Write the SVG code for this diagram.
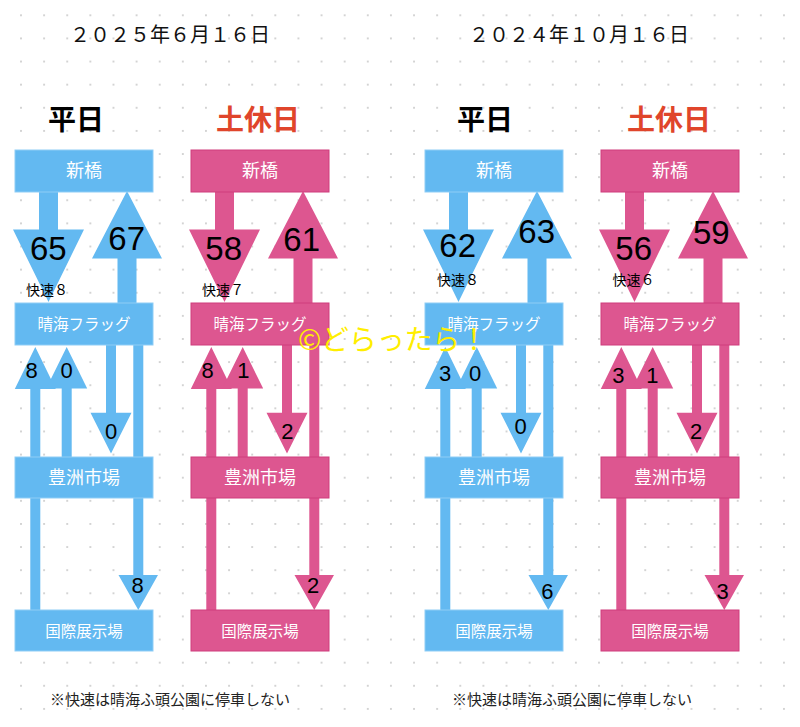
<svg xmlns="http://www.w3.org/2000/svg" width="800" height="727" viewBox="0 0 800 727">
<defs>
<pattern id="dots" patternUnits="userSpaceOnUse" x="9.44" y="3.74" width="23.12" height="23.12">
<circle cx="11.56" cy="11.56" r="0.85" fill="#bdbdbd"/>
</pattern>
</defs>
<style>
.b{fill:#63B9F1}
.p{fill:#DD5690}
.bx-b{fill:#63B9F1;stroke:#8fcdf6;stroke-width:1}
.bx-p{fill:#DD5690;stroke:#cf3c7c;stroke-width:1}
.bt{font-family:"Noto Sans CJK JP","Noto Sans",sans-serif;fill:#fff;text-anchor:middle}
.big{font-family:"Liberation Sans",Arial,sans-serif;font-size:33px;text-anchor:middle;fill:#000}
.sm{font-family:"Liberation Sans",Arial,sans-serif;font-size:22px;text-anchor:middle;fill:#000}
.kai{font-family:"Noto Sans CJK JP",sans-serif;font-size:14px;fill:#000}
.date{font-family:"Noto Sans CJK JP",sans-serif;font-size:20px;fill:#111}
.ttl{font-family:"Noto Sans CJK JP",sans-serif;font-size:28px;font-weight:bold;text-anchor:middle}
.note{font-family:"Noto Sans CJK JP",sans-serif;font-size:15px;fill:#222}
</style>
<rect width="800" height="727" fill="#fff"/>
<rect width="800" height="727" fill="url(#dots)"/>

<text class="date" x="70" y="41.5">２０２５年６月１６日</text>
<text class="date" x="469" y="41.5">２０２４年１０月１６日</text>
<text class="ttl" x="76" y="130" fill="#000">平日</text>
<text class="ttl" x="258" y="130" fill="#E0452B">土休日</text>
<text class="ttl" x="485" y="130" fill="#000">平日</text>
<text class="ttl" x="669" y="130" fill="#E0452B">土休日</text>

<!-- Panel 1 -->
<g id="p1" transform="translate(0,0)">
<g id="p1-connectors" class="b">
<polygon points="39,192 58,192 58,229.5 84,229.5 48.5,302 13,229.5 39,229.5"/>
<polygon points="117.5,303 136.5,303 136.5,258.5 162,258.5 127,191 92,258.5 117.5,258.5"/>
<polygon points="30.3,610 40.3,610 40.3,389 55.8,389 35.3,347 14.8,389 30.3,389"/>
<polygon points="61.7,457 71.7,457 71.7,388.5 87.2,388.5 66.7,347 46.2,388.5 61.7,388.5"/>
<polygon points="106,345 116,345 116,412.7 131.5,412.7 111,453.5 90.5,412.7 106,412.7"/>
<polygon points="133.3,345 143.3,345 143.3,575 158,575 138.3,610 118.5,575 133.3,575"/>
</g>
<g id="p1-shimbashi"><rect class="bx-b" x="15" y="150" width="138" height="42"/><text class="bt" x="84" y="177" font-size="18">新橋</text></g>
<g id="p1-harumi"><rect class="bx-b" x="15" y="303" width="138" height="42"/><text class="bt" x="84" y="330" font-size="15.5">晴海フラッグ</text></g>
<g id="p1-toyosu"><rect class="bx-b" x="15" y="457" width="138" height="41"/><text class="bt" x="84" y="484" font-size="18">豊洲市場</text></g>
<g id="p1-kokusai"><rect class="bx-b" x="15" y="610" width="138" height="41"/><text class="bt" x="84" y="636.5" font-size="15.5">国際展示場</text></g>
<g id="p1-labels">
<text class="big" x="48.3" y="260">65</text>
<text class="big" x="126.7" y="250">67</text>
<text class="kai" x="26" y="295">快速８</text>
<text class="sm" x="31.7" y="378.3">8</text>
<text class="sm" x="66.7" y="378.3">0</text>
<text class="sm" x="111" y="439.3">0</text>
<text class="sm" x="137.7" y="592.7">8</text>
</g>
</g>

<!-- Panel 2 -->
<g id="p2" transform="translate(176,0)">
<g id="p2-connectors" class="p">
<polygon points="39,192 58,192 58,229.5 84,229.5 48.5,302 13,229.5 39,229.5"/>
<polygon points="117.5,303 136.5,303 136.5,258.5 162,258.5 127,191 92,258.5 117.5,258.5"/>
<polygon points="30.3,610 40.3,610 40.3,389 55.8,389 35.3,347 14.8,389 30.3,389"/>
<polygon points="61.7,457 71.7,457 71.7,388.5 87.2,388.5 66.7,347 46.2,388.5 61.7,388.5"/>
<polygon points="106,345 116,345 116,412.7 131.5,412.7 111,453.5 90.5,412.7 106,412.7"/>
<polygon points="133.3,345 143.3,345 143.3,575 158,575 138.3,610 118.5,575 133.3,575"/>
</g>
<g id="p2-shimbashi"><rect class="bx-p" x="15" y="150" width="138" height="42"/><text class="bt" x="84" y="177" font-size="18">新橋</text></g>
<g id="p2-harumi"><rect class="bx-p" x="15" y="303" width="138" height="42"/><text class="bt" x="84" y="330" font-size="15.5">晴海フラッグ</text></g>
<g id="p2-toyosu"><rect class="bx-p" x="15" y="457" width="138" height="41"/><text class="bt" x="84" y="484" font-size="18">豊洲市場</text></g>
<g id="p2-kokusai"><rect class="bx-p" x="15" y="610" width="138" height="41"/><text class="bt" x="84" y="636.5" font-size="15.5">国際展示場</text></g>
<g id="p2-labels">
<text class="big" x="47.7" y="260">58</text>
<text class="big" x="125.7" y="250.7">61</text>
<text class="kai" x="26" y="295">快速７</text>
<text class="sm" x="31.7" y="377.7">8</text>
<text class="sm" x="67.3" y="377.7">1</text>
<text class="sm" x="111.3" y="439">2</text>
<text class="sm" x="137" y="593">2</text>
</g>
</g>

<!-- Panel 3 -->
<g id="p3" transform="translate(410,0)">
<g id="p3-connectors" class="b">
<polygon points="39,192 58,192 58,229.5 84,229.5 48.5,302 13,229.5 39,229.5"/>
<polygon points="117.5,303 136.5,303 136.5,258.5 162,258.5 127,191 92,258.5 117.5,258.5"/>
<polygon points="30.3,610 40.3,610 40.3,389 55.8,389 35.3,347 14.8,389 30.3,389"/>
<polygon points="61.7,457 71.7,457 71.7,388.5 87.2,388.5 66.7,347 46.2,388.5 61.7,388.5"/>
<polygon points="106,345 116,345 116,412.7 131.5,412.7 111,453.5 90.5,412.7 106,412.7"/>
<polygon points="133.3,345 143.3,345 143.3,575 158,575 138.3,610 118.5,575 133.3,575"/>
</g>
<g id="p3-shimbashi"><rect class="bx-b" x="15" y="150" width="138" height="42"/><text class="bt" x="84" y="177" font-size="18">新橋</text></g>
<g id="p3-harumi"><rect class="bx-b" x="15" y="303" width="138" height="42"/><text class="bt" x="84" y="330" font-size="15.5">晴海フラッグ</text></g>
<g id="p3-toyosu"><rect class="bx-b" x="15" y="457" width="138" height="41"/><text class="bt" x="84" y="484" font-size="18">豊洲市場</text></g>
<g id="p3-kokusai"><rect class="bx-b" x="15" y="610" width="138" height="41"/><text class="bt" x="84" y="636.5" font-size="15.5">国際展示場</text></g>
<g id="p3-labels">
<text class="big" x="47.7" y="256.7">62</text>
<text class="big" x="126.7" y="243.3">63</text>
<text class="kai" x="27" y="285">快速８</text>
<text class="sm" x="35" y="380.7">3</text>
<text class="sm" x="65" y="380.7">0</text>
<text class="sm" x="110.7" y="434.3">0</text>
<text class="sm" x="137.3" y="599">6</text>
</g>
</g>

<!-- Panel 4 -->
<g id="p4" transform="translate(586,0)">
<g id="p4-connectors" class="p">
<polygon points="39,192 58,192 58,229.5 84,229.5 48.5,302 13,229.5 39,229.5"/>
<polygon points="117.5,303 136.5,303 136.5,258.5 162,258.5 127,191 92,258.5 117.5,258.5"/>
<polygon points="30.3,610 40.3,610 40.3,389 55.8,389 35.3,347 14.8,389 30.3,389"/>
<polygon points="61.7,457 71.7,457 71.7,388.5 87.2,388.5 66.7,347 46.2,388.5 61.7,388.5"/>
<polygon points="106,345 116,345 116,412.7 131.5,412.7 111,453.5 90.5,412.7 106,412.7"/>
<polygon points="133.3,345 143.3,345 143.3,575 158,575 138.3,610 118.5,575 133.3,575"/>
</g>
<g id="p4-shimbashi"><rect class="bx-p" x="15" y="150" width="138" height="42"/><text class="bt" x="84" y="177" font-size="18">新橋</text></g>
<g id="p4-harumi"><rect class="bx-p" x="15" y="303" width="138" height="42"/><text class="bt" x="84" y="330" font-size="15.5">晴海フラッグ</text></g>
<g id="p4-toyosu"><rect class="bx-p" x="15" y="457" width="138" height="41"/><text class="bt" x="84" y="484" font-size="18">豊洲市場</text></g>
<g id="p4-kokusai"><rect class="bx-p" x="15" y="610" width="138" height="41"/><text class="bt" x="84" y="636.5" font-size="15.5">国際展示場</text></g>
<g id="p4-labels">
<text class="big" x="47.7" y="260">56</text>
<text class="big" x="125.3" y="244.3">59</text>
<text class="kai" x="26.5" y="285">快速６</text>
<text class="sm" x="32.3" y="383.3">3</text>
<text class="sm" x="66.3" y="383.3">1</text>
<text class="sm" x="110" y="439">2</text>
<text class="sm" x="136.7" y="599">3</text>
</g>
</g>

<text class="note" x="50" y="705">※快速は晴海ふ頭公園に停車しない</text>
<text class="note" x="452" y="705">※快速は晴海ふ頭公園に停車しない</text>
<text x="298" y="350" font-family="'Noto Sans CJK JP',sans-serif" font-size="28" fill="#FFEE00" textLength="190" lengthAdjust="spacing">©どらったら！</text>
</svg>
